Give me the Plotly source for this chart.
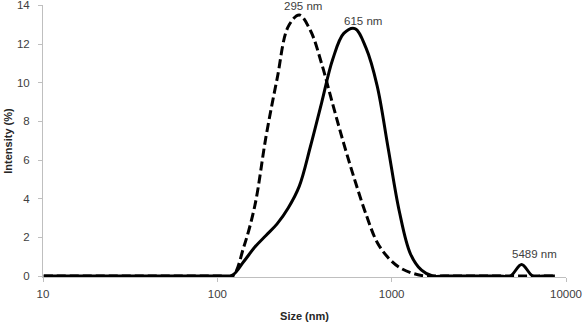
import math
import plotly.graph_objects as go

# Size bins (nm)
size_nm = [10.10, 11.70, 13.54, 15.69, 18.17, 21.04, 24.36, 28.21, 32.67, 37.84,
           43.82, 50.75, 58.77, 68.06, 78.82, 91.28, 105.7, 122.4, 141.8, 164.2,
           190.1, 220.2, 255.0, 295.3, 342.0, 396.1, 458.7, 531.2, 615.1, 712.4,
           825.0, 955.4, 1106, 1281, 1484, 1718, 1990, 2305, 2669, 3091,
           3580, 4145, 4801, 5560, 6439, 7456, 8635]

# Dashed distribution (peak 295 nm), intensity %
intensity_dashed = [0, 0, 0, 0, 0, 0, 0, 0, 0, 0,
                    0, 0, 0, 0, 0, 0, 0, 0, 1.5, 3.65,
                    7.2, 10.2, 12.9, 13.5, 12.7, 11.0, 8.9, 6.85, 4.95, 3.2,
                    1.75, 0.95, 0.45, 0.18, 0.03, 0, 0, 0, 0, 0,
                    0, 0, 0, 0, 0, 0, 0]

# Solid distribution (peaks 615 nm and 5489 nm), intensity %
intensity_solid = [0, 0, 0, 0, 0, 0, 0, 0, 0, 0,
                   0, 0, 0, 0, 0, 0, 0, 0.05, 0.75, 1.5,
                   2.1, 2.7, 3.52, 4.65, 6.7, 8.95, 11.2, 12.55, 12.8, 11.8,
                   9.85, 6.6, 3.35, 1.15, 0.3, 0, 0, 0, 0, 0,
                   0, 0, 0, 0.6, 0, 0, 0]

peak_labels = ["295 nm", "615 nm", "5489 nm"]
x_ticks = [10, 100, 1000, 10000]
x_tick_text = ["10", "100", "1000", "10000"]
y_ticks = [0, 2, 4, 6, 8, 10, 12, 14]

FONT = "Liberation Sans, Arial, sans-serif"
TXT = "#404040"
AX = "#BFBFBF"

fig = go.Figure()
fig.add_trace(go.Scatter(
    x=size_nm, y=intensity_dashed, mode="lines",
    line=dict(color="black", width=3, dash="9px,4px", shape="spline", smoothing=1),
    hoverinfo="skip"))
fig.add_trace(go.Scatter(
    x=size_nm, y=intensity_solid, mode="lines",
    line=dict(color="black", width=3, shape="spline", smoothing=1),
    hoverinfo="skip"))

ann_pos = [(310, 13.95), (686, 13.2), (6577, 1.12)]
for text, (ax_, ay_) in zip(peak_labels, ann_pos):
    fig.add_annotation(x=math.log10(ax_), y=ay_, xref="x", yref="y", text=text,
                       showarrow=False, xanchor="center", yanchor="middle",
                       font=dict(family=FONT, size=11.5, color=TXT))

fig.update_layout(
    width=584, height=323,
    margin=dict(l=43, r=18, t=5, b=46, autoexpand=False),
    paper_bgcolor="white", plot_bgcolor="white",
    showlegend=False,
    font=dict(family=FONT, size=11.5, color=TXT),
)
fig.update_xaxes(
    type="log", range=[1, 4],
    tickvals=x_ticks, ticktext=x_tick_text,
    showgrid=False, zeroline=False,
    showline=True, linecolor=AX, linewidth=1,
    ticks="outside", ticklen=4, tickcolor=AX, tickwidth=1,
    ticklabelstandoff=2, ticklabeloverflow="allow",
    tickfont=dict(family=FONT, size=11.5, color=TXT),
    title=dict(text="<b>Size (nm)</b>", font=dict(family=FONT, size=11, color="#262626"), standoff=13),
    layer="below traces", automargin=False,
)
fig.update_yaxes(
    range=[-0.05, 14.02],
    tickvals=y_ticks,
    showgrid=False, zeroline=False,
    showline=True, linecolor=AX, linewidth=1,
    ticks="outside", ticklen=4, tickcolor=AX, tickwidth=1,
    ticklabelstandoff=6, ticklabeloverflow="allow",
    tickfont=dict(family=FONT, size=11.5, color=TXT),
    title=dict(text="<b>Intensity (%)</b>", font=dict(family=FONT, size=11, color="#262626"), standoff=2),
    layer="below traces", automargin=False,
)

fig.write_html("out.html")
